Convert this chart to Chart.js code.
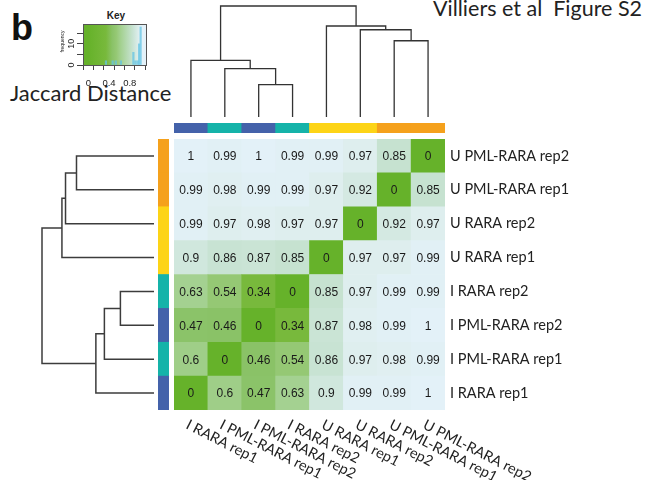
<!DOCTYPE html>
<html>
<head>
<meta charset="utf-8">
<script src="https://cdn.jsdelivr.net/npm/chart.js@4.4.1/dist/chart.umd.min.js"></script>
<style>
  body { margin: 0; background: #fff; }
  #wrap { position: relative; width: 657px; height: 480px; overflow: hidden; color: #222; }
  canvas { position: absolute; }
  .txt { position: absolute; white-space: pre; line-height: 1; }
</style>
</head>
<body>
<div id="wrap">
  <div class="txt" style="left:11px;top:7px;font:bold 36px 'Liberation Sans',Arial;color:#111">b</div>
  <div class="txt" style="left:116px;top:10px;transform:translateX(-50%);font:bold 10px 'Liberation Sans',Arial">Key</div>
  <div class="txt" style="left:433px;top:-5px;font:21.5px Lato,sans-serif">Villiers et al  Figure S2</div>
  <div class="txt" style="left:10px;top:79px;font:22px Lato,sans-serif">Jaccard Distance</div>

  <canvas id="keyChart" width="120" height="100" style="left:40px;top:0"></canvas>
  <canvas id="topDendro" width="271" height="117" style="left:174px;top:0"></canvas>
  <canvas id="colBar" width="271" height="10" style="left:174px;top:123px"></canvas>
  <canvas id="leftDendro" width="154" height="271" style="left:0;top:139px"></canvas>
  <canvas id="rowBar" width="11" height="271" style="left:158px;top:139px"></canvas>
  <canvas id="heatmap" width="483" height="341" style="left:174px;top:139px"></canvas>
</div>

<script>
// samples along the columns (left to right) and rows (top to bottom)
const colLabels = ["I RARA rep1", "I PML-RARA rep1", "I PML-RARA rep2", "I RARA rep2",
                   "U RARA rep1", "U RARA rep2", "U PML-RARA rep1", "U PML-RARA rep2"];
const rowLabels = ["U PML-RARA rep2", "U PML-RARA rep1", "U RARA rep2", "U RARA rep1",
                   "I RARA rep2", "I PML-RARA rep2", "I PML-RARA rep1", "I RARA rep1"];

// Jaccard distance, one array per row (same order as rowLabels)
const jaccardDistance = [
  [1, 0.99, 1, 0.99, 0.99, 0.97, 0.85, 0],
  [0.99, 0.98, 0.99, 0.99, 0.97, 0.92, 0, 0.85],
  [0.99, 0.97, 0.98, 0.97, 0.97, 0, 0.92, 0.97],
  [0.9, 0.86, 0.87, 0.85, 0, 0.97, 0.97, 0.99],
  [0.63, 0.54, 0.34, 0, 0.85, 0.97, 0.99, 0.99],
  [0.47, 0.46, 0, 0.34, 0.87, 0.98, 0.99, 1],
  [0.6, 0, 0.46, 0.54, 0.86, 0.97, 0.98, 0.99],
  [0, 0.6, 0.47, 0.63, 0.9, 0.99, 0.99, 1]
];

// dendrograms, hclust style: negative = leaf position (1-based), positive = earlier merge
const colMerge = [[-3, -4], [-2, 1], [-1, 2], [-7, -8], [-6, 4], [-5, 5], [3, 6]];
const colHeight = [0.291, 0.435, 0.511, 0.687, 0.786, 0.82, 1];
const rowMerge = [[-1, -2], [-3, 1], [-4, 2], [-5, -6], [-7, 4], [-8, 5], [3, 6]];
const rowHeight = [0.692, 0.79, 0.822, 0.3, 0.443, 0.519, 1];

// colour key histogram
const histBreaks = [0.34, 0.47, 0.53, 0.63, 0.87, 0.91, 0.95, 0.98, 1.01];
const histCounts = [2, 2, 2, 2, 6, 2, 2, 10, 18];
const keyXTicks = [0, 0.2, 0.4, 0.6, 0.8, 1];
const keyXLabels = ["0", "", "0.4", "", "0.8", ""];
const keyYTicks = [0, 5, 10, 15];
const keyYLabels = ["0", "", "10", ""];

// sample group colours
const groupColor = {
  "I RARA rep1": "#4462AA", "I PML-RARA rep1": "#15B3A9",
  "I PML-RARA rep2": "#4462AA", "I RARA rep2": "#15B3A9",
  "U RARA rep1": "#FDD417", "U RARA rep2": "#FDD417",
  "U PML-RARA rep1": "#F5A11C", "U PML-RARA rep2": "#F5A11C"
};

// green -> pale blue palette
const paletteStops = [0, 0.34, 0.46, 0.54, 0.62, 0.86, 0.97, 1];
const paletteColors = ["#66B22A", "#78B93C", "#8AC267", "#95C874", "#A2D08E", "#C8E3D3", "#DEEEEE", "#E3F1F8"];

const labelFont = "14.5px Lato, sans-serif";

function hexRgb(h) {
  return [1, 3, 5].map((i) => parseInt(h.slice(i, i + 2), 16));
}

function distColor(v) {
  for (let i = 1; i < paletteStops.length; i++) {
    if (v <= paletteStops[i]) {
      const t = (v - paletteStops[i - 1]) / (paletteStops[i] - paletteStops[i - 1]);
      const a = hexRgb(paletteColors[i - 1]), b = hexRgb(paletteColors[i]);
      const c = a.map((x, k) => Math.round(x + (b[k] - x) * t));
      return `rgb(${c[0]},${c[1]},${c[2]})`;
    }
  }
  return paletteColors[paletteColors.length - 1];
}

const common = {
  responsive: false,
  animation: false,
  devicePixelRatio: 1,
  events: [],
  plugins: { legend: { display: false }, tooltip: { enabled: false } }
};

// turn merges into U-shaped line segments
function dendroSegments(merge, height, horizontal) {
  const pos = [], hgt = [];
  const node = (id) => (id < 0 ? { p: -id - 1, h: 0 } : { p: pos[id - 1], h: hgt[id - 1] });
  return merge.map(([a, b], i) => {
    const A = node(a), B = node(b), H = height[i];
    pos.push((A.p + B.p) / 2);
    hgt.push(H);
    const pts = [[A.p, A.h], [A.p, H], [B.p, H], [B.p, B.h]];
    return pts.map(([p, v]) => (horizontal ? { x: v, y: p } : { x: p, y: v }));
  });
}

function dendroChart(id, segs, xOpts, yOpts, padding, color, width) {
  new Chart(document.getElementById(id), {
    type: "scatter",
    data: {
      datasets: segs.map((d) => ({
        data: d, showLine: true, borderColor: color, borderWidth: width,
        pointRadius: 0, clip: false, borderJoinStyle: "miter"
      }))
    },
    options: {
      ...common,
      layout: { padding },
      scales: { x: { ...xOpts, display: false }, y: { ...yOpts, display: false } }
    }
  });
}

dendroChart("topDendro", dendroSegments(colMerge, colHeight, false),
  { type: "linear", min: -0.5, max: colLabels.length - 0.5 },
  { type: "linear", min: 0, max: 1 },
  { top: 6 }, "#333", 1.3);

dendroChart("leftDendro", dendroSegments(rowMerge, rowHeight, true),
  { type: "linear", min: 0, max: 1, reverse: true },
  { type: "linear", min: -0.5, max: rowLabels.length - 0.5, reverse: true },
  { left: 42 }, "#3c3c3c", 1.5);

// sample colour strips
new Chart(document.getElementById("colBar"), {
  type: "bar",
  data: {
    labels: colLabels,
    datasets: [{ data: colLabels.map(() => 1), backgroundColor: colLabels.map((s) => groupColor[s]),
                 barPercentage: 1, categoryPercentage: 1, borderWidth: 0 }]
  },
  options: { ...common, scales: { x: { display: false }, y: { display: false, min: 0, max: 1 } } }
});

new Chart(document.getElementById("rowBar"), {
  type: "bar",
  data: {
    labels: rowLabels,
    datasets: [{ data: rowLabels.map(() => 1), backgroundColor: rowLabels.map((s) => groupColor[s]),
                 barPercentage: 1, categoryPercentage: 1, borderWidth: 0 }]
  },
  options: { ...common, indexAxis: "y", scales: { y: { display: false }, x: { display: false, min: 0, max: 1 } } }
});

// heatmap: one stacked dataset per row, bottom row first
const nRows = rowLabels.length;
const heatDatasets = rowLabels.map((_, r) => r).reverse().map((r) => ({
  label: rowLabels[r],
  data: colLabels.map(() => 1),
  values: jaccardDistance[r],
  backgroundColor: jaccardDistance[r].map(distColor),
  borderWidth: 0,
  barPercentage: 1,
  categoryPercentage: 1
}));

const cellText = {
  id: "cellText",
  afterDatasetsDraw(chart) {
    const ctx = chart.ctx;
    ctx.save();
    ctx.font = "12px 'Liberation Sans', Arial";
    ctx.fillStyle = "#1a1a1a";
    ctx.textAlign = "center";
    ctx.textBaseline = "middle";
    chart.data.datasets.forEach((ds, i) => {
      chart.getDatasetMeta(i).data.forEach((bar, j) => {
        const c = bar.getCenterPoint();
        ctx.fillText(String(ds.values[j]), c.x, c.y + 1);
      });
    });
    ctx.restore();
  }
};

const colTickLabels = {
  id: "colTickLabels",
  afterDraw(chart) {
    const ctx = chart.ctx, x = chart.scales.x;
    ctx.save();
    ctx.font = labelFont;
    ctx.fillStyle = "#222";
    ctx.textAlign = "left";
    ctx.textBaseline = "alphabetic";
    colLabels.forEach((lab, i) => {
      ctx.save();
      ctx.translate(x.getPixelForValue(i) - 6, chart.chartArea.bottom + 18);
      ctx.rotate(27 * Math.PI / 180);
      ctx.fillText(lab, 0, 0);
      ctx.restore();
    });
    ctx.restore();
  }
};

new Chart(document.getElementById("heatmap"), {
  type: "bar",
  data: { labels: colLabels, datasets: heatDatasets },
  options: {
    ...common,
    layout: { padding: { bottom: 70 } },
    scales: {
      x: { type: "category", stacked: true, display: false },
      y: {
        type: "linear", position: "right", stacked: true, min: 0, max: nRows,
        grid: { display: false, drawTicks: false }, border: { display: false },
        afterBuildTicks: (s) => { s.ticks = rowLabels.map((_, i) => ({ value: nRows - i - 0.5 })); },
        ticks: {
          autoSkip: false, padding: 5, color: "#222", font: { family: "Lato", size: 14.5 },
          callback: (v) => rowLabels[Math.round(nRows - 0.5 - v)]
        },
        afterFit: (s) => { s.width = 212; s.paddingTop = 0; s.paddingBottom = 0; }
      }
    }
  },
  plugins: [cellText, colTickLabels]
});

// colour key with histogram
const keyBackground = {
  id: "keyBackground",
  beforeDatasetsDraw(chart) {
    const { ctx, chartArea: a, scales } = chart;
    const g = ctx.createLinearGradient(scales.x.getPixelForValue(0), 0, scales.x.getPixelForValue(1), 0);
    paletteStops.forEach((v, i) => g.addColorStop(v, paletteColors[i]));
    ctx.save();
    ctx.fillStyle = g;
    ctx.fillRect(a.left, a.top, a.right - a.left, a.bottom - a.top);
    ctx.restore();
  },
  afterDraw(chart) {
    const { ctx, chartArea: a, scales } = chart;
    ctx.save();
    ctx.strokeStyle = "#555";
    ctx.lineWidth = 1;
    ctx.strokeRect(Math.round(a.left) + 0.5, Math.round(a.top) + 0.5,
                   Math.round(a.right - a.left) - 1, Math.round(a.bottom - a.top));
    ctx.fillStyle = "#222";
    ctx.font = "9.5px 'Liberation Sans', Arial";
    ctx.textAlign = "center";
    ctx.textBaseline = "middle";
    keyXTicks.forEach((v, i) => {
      if (keyXLabels[i]) ctx.fillText(keyXLabels[i], scales.x.getPixelForValue(v), a.bottom + 18);
    });
    ctx.font = "9px 'Liberation Sans', Arial";
    keyYTicks.forEach((v, i) => {
      if (!keyYLabels[i]) return;
      ctx.save();
      ctx.translate(a.left - 11, scales.y.getPixelForValue(v));
      ctx.rotate(-Math.PI / 2);
      ctx.fillText(keyYLabels[i], 0, 0);
      ctx.restore();
    });
    ctx.save();
    ctx.font = "5px 'Liberation Sans', Arial";
    ctx.translate(a.left - 20, (a.top + a.bottom) / 2 - 3);
    ctx.rotate(-Math.PI / 2);
    ctx.fillText("frequency", 0, 0);
    ctx.restore();
    ctx.restore();
  }
};

new Chart(document.getElementById("keyChart"), {
  type: "bar",
  data: {
    datasets: [{
      data: histBreaks.map((b, i) => ({ x: b, y: histCounts[i] })),
      backgroundColor: "rgba(100,196,228,0.75)",
      barThickness: 1.5,
      borderWidth: 0
    }]
  },
  options: {
    ...common,
    layout: { padding: { top: 24, right: 13 } },
    scales: {
      x: {
        type: "linear", min: 0, max: 1.03,
        afterBuildTicks: (s) => { s.ticks = keyXTicks.map((v) => ({ value: v })); },
        ticks: { display: false },
        grid: { drawOnChartArea: false, tickLength: 5, color: "#444" },
        border: { display: false },
        afterFit: (s) => { s.height = 35; s.paddingLeft = 0; s.paddingRight = 0; }
      },
      y: {
        type: "linear", min: 0, max: 19.4,
        afterBuildTicks: (s) => { s.ticks = keyYTicks.map((v) => ({ value: v })); },
        ticks: { display: false },
        grid: { drawOnChartArea: false, tickLength: 6, color: "#444" },
        border: { display: false },
        afterFit: (s) => { s.width = 43; s.paddingTop = 0; s.paddingBottom = 0; }
      }
    }
  },
  plugins: [keyBackground]
});
</script>
</body>
</html>
